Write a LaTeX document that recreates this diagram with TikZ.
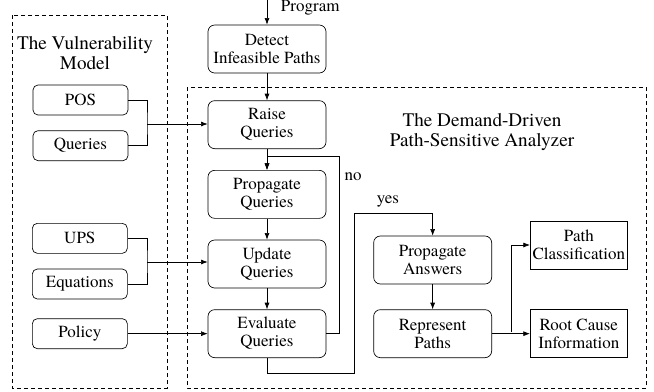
\documentclass[tikz,border=0pt]{standalone}
\usepackage{fontspec}
\setmainfont{texgyretermes}[Extension=.otf, UprightFont=*-regular, BoldFont=*-bold]
\usetikzlibrary{arrows.meta, positioning}

\begin{document}
\begin{tikzpicture}[x=0.6pt, y=-0.6pt, >={Latex[length=4pt, width=3pt]}, node distance=12.6pt and 28.2pt,
  box/.style={draw, rounded corners=4pt, minimum height=28.8pt, minimum width=70.8pt, align=center, inner sep=1pt, font=\fontsize{10.2}{10.8}\selectfont},
  inbox/.style={draw, rounded corners=3pt, minimum height=18pt, minimum width=57pt, align=center, inner sep=1pt, font=\fontsize{10.2}{10.8}\selectfont},
  outbox/.style={draw, minimum height=28.8pt, minimum width=58.2pt, align=center, inner sep=1pt, font=\fontsize{10.2}{10.8}\selectfont},
  group/.style={draw, dash pattern=on 2.4pt off 1.8pt},
  title/.style={align=center, font=\fontsize{11.5}{12}\selectfont},
  lbl/.style={font=\fontsize{10.2}{10.8}\selectfont}]
\useasboundingbox (0,0) rectangle (654,391);
% frames
\draw[group] (12,15) rectangle (167,388);
\draw[group] (187,87) rectangle (646,388);
\node[title] (vmtitle) at (85,53) {The Vulnerability\\Model};
\node[title] (datitle) at (482,132) {The Demand-Driven\\Path-Sensitive Analyzer};
% main column
\node[box] (detect) at (267,49) {Detect\\Infeasible Paths};
\node[box, below=16.2pt of detect] (raise) {Raise\\Queries};
\node[box, below=of raise] (propq) {Propagate\\Queries};
\node[box, below=of propq] (updq) {Update\\Queries};
\node[box, below=of updq] (evalq) {Evaluate\\Queries};
\node[box, right=of evalq] (reppath) {Represent\\Paths};
\node[box, above=15pt of reppath] (propa) {Propagate\\Answers};
\node[outbox, right=22.8pt of reppath] (rootc) {Root Cause\\Information};
\node[outbox, above=24pt of rootc] (pathc) {Path\\Classification};
% vulnerability model
\node[inbox] (pos) at (80.5,100) {POS};
\node[inbox, below=9pt of pos] (qry) {Queries};
\node[inbox, left=48pt of evalq] (policy) {Policy};
\node[inbox, above=11.4pt of policy] (eqn) {Equations};
\node[inbox, above=9pt of eqn] (ups) {UPS};
% connectors
\coordinate (prog) at (267,0);
\node[lbl, anchor=west] (progtxt) at (275,8) {Program};
\draw[->] (prog) -- (detect);
\draw[->] (detect) -- (raise);
\draw[->] (raise) -- (propq);
\draw[->] (propq) -- (updq);
\draw[->] (updq) -- (evalq);
\coordinate (j1) at (147,124);
\coordinate (j2) at (147,262);
\draw (pos.east) -| (j1) |- (qry.east);
\draw[->] (j1) -- (j1 -| raise.west);
\draw (ups.east) -| (j2) |- (eqn.east);
\draw[->] (j2) -- (j2 -| updq.west);
\draw[->] (policy) -- (evalq);
% no / yes
\coordinate (noturn) at (339,156);
\draw[->] (evalq.east) -| (noturn) -| (propq.north);
\node[lbl] (notxt) at (353,177) {no};
\coordinate (yesbot) at (354,373);
\coordinate (yestop) at (354,213);
\draw[->] (evalq.south) |- (yesbot) -- (yestop) -| (propa.north);
\node[lbl] (yestxt) at (388,201) {yes};
\draw[->] (propa) -- (reppath);
\draw[->] (reppath) -- (rootc);
\coordinate (split) at (511,332);
\draw[->] (split) |- (pathc.west);
\end{tikzpicture}
\end{document}
